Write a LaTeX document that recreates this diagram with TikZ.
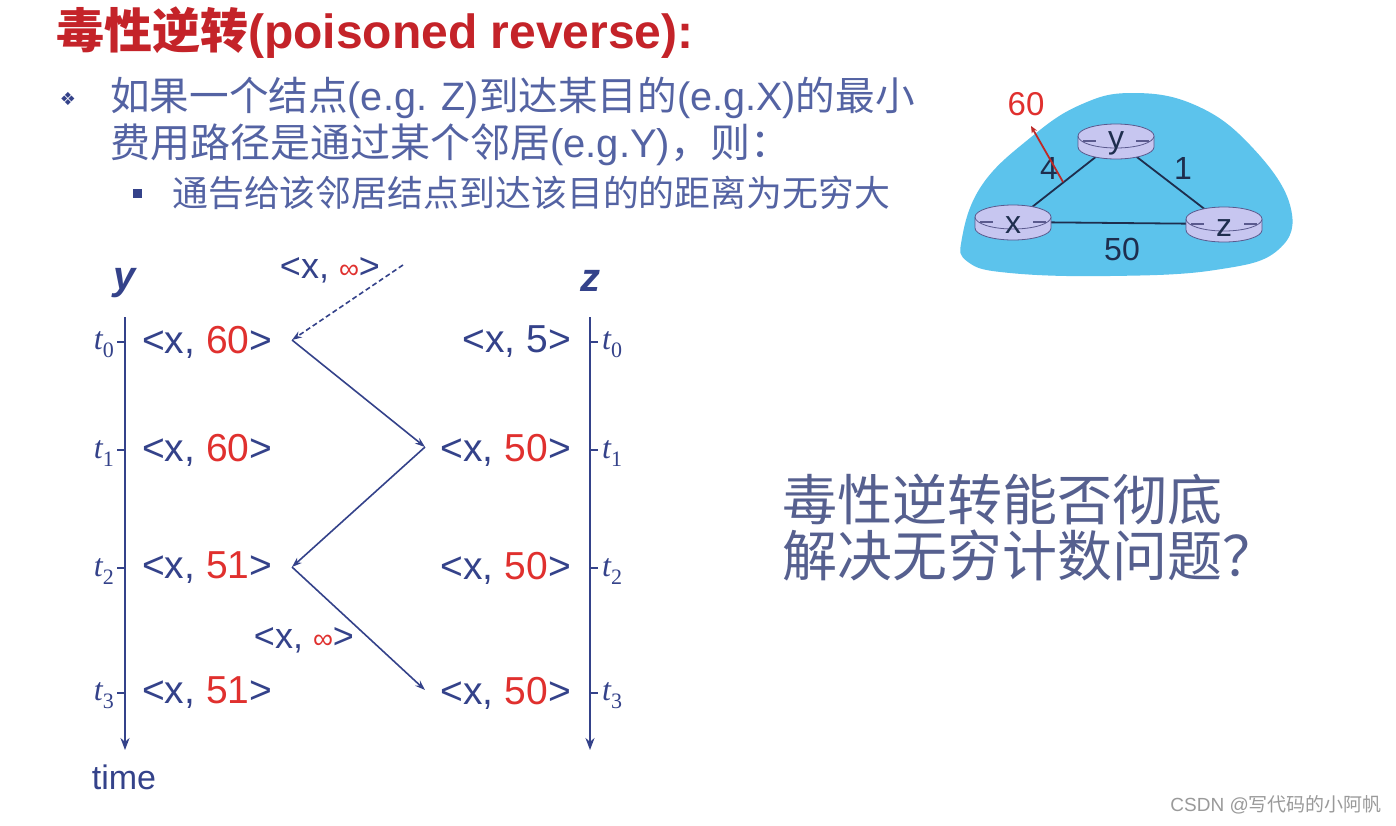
\documentclass[tikz,border=0pt]{standalone}
\usepackage{fontspec}
\setmainfont{Liberation Sans}
\newfontfamily\cjk{Noto Sans CJK SC}
\newfontfamily\tms{Liberation Serif}
\newfontfamily\djv{DejaVu Sans}
\usetikzlibrary{arrows.meta,shapes.geometric}
\definecolor{navy}{HTML}{34428A}
\definecolor{soft}{HTML}{5463A3}
\definecolor{redn}{HTML}{E0302E}
\definecolor{redt}{HTML}{C42329}
\definecolor{quest}{HTML}{56608F}
\definecolor{blob}{HTML}{5CC3EC}
\definecolor{rfill}{HTML}{C7C6F0}
\definecolor{rline}{HTML}{5A5A8E}
\definecolor{dark}{HTML}{1E2E4E}
\definecolor{wm}{HTML}{9A9A9A}
\newcommand\ent[1]{<x, \textcolor{redn}{#1}>}
\newcommand\tlab[1]{{\tms\itshape t}\raisebox{-8pt}{\fontsize{22}{22}\selectfont\tms #1}}
\tikzset{
  lbl/.style={inner sep=0pt, font=\fontsize{39}{41}\selectfont, text=navy},
  tklbl/.style={inner sep=0pt, font=\fontsize{32}{34}\selectfont, text=navy},
  inflbl/.style={inner sep=0pt, font=\fontsize{36}{38}\selectfont, text=navy},
  msg/.style={draw=navy, line width=1.6pt, -{Stealth[length=10pt,width=7pt]}},
  axis/.style={draw=navy, line width=2.2pt, -{Stealth[length=12pt,width=9pt]}},
  tick/.style={draw=navy, line width=1.5pt},
  router/.style={ellipse, minimum width=76pt, minimum height=36pt, inner sep=0pt},
  link/.style={draw=dark, line width=1.8pt},
  rlabel/.style={inner sep=0pt, font=\fontsize{32}{34}\selectfont, text=dark},
  rtr/.pic={
    \path[fill=rfill, draw=rline, line width=0.8pt] (-38,-5) -- (-38,6)
      arc[start angle=180, end angle=360, x radius=38pt, y radius=12pt] -- (38,-5);
    \draw[fill=rfill, draw=rline, line width=0.8pt] (0,-5) ellipse [x radius=38pt, y radius=12pt];
    \draw[rline, line width=1.2pt] (-33,0) -- (-20,0) (20,0) -- (33,0);
  }
}
\begin{document}
\begin{tikzpicture}[x=1pt,y=-1pt]
\useasboundingbox[fill=white] (0,0) rectangle (1396,825);

% title and bullets
\node[anchor=west, inner sep=0pt, text=redt, font=\fontsize{48}{50}\selectfont\bfseries] (title) at (56,33)
  {{\cjk\bfseries 毒性逆转}(poisoned reverse):};
\node[inner sep=0pt, text=navy, font=\fontsize{18}{18}\selectfont\djv] (b1) at (68,99) {❖};
\node[anchor=west, inner sep=0pt, text=soft, font=\fontsize{39.6}{41}\selectfont] (l1) at (110,98)
  {{\cjk 如果一个结点}(e.g. Z){\cjk 到达某目的}(e.g.X){\cjk 的最小}};
\node[anchor=west, inner sep=0pt, text=soft, font=\fontsize{40}{42}\selectfont] (l2) at (110,145)
  {{\cjk 费用路径是通过某个邻居}(e.g.Y){\cjk ，则：}};
\node[fill=navy, minimum size=9pt, inner sep=0pt] (b2) at (137,193) {};
\node[anchor=west, inner sep=0pt, text=soft, font=\fontsize{35.9}{37}\selectfont\cjk] (l3) at (172,193)
  {通告给该邻居结点到达该目的的距离为无穷大};

% network
\fill[blob] plot[smooth cycle, tension=0.7] coordinates {(962,238) (982,185) (1030,138) (1080,105) (1132,93) (1195,105) (1250,145) (1290,205) (1278,250) (1215,270) (1110,276) (1010,273) (968,262)};
\node[router] (rx) at (1013,222) {};
\node[router] (ry) at (1116,141) {};
\node[router] (rz) at (1224,224) {};
\draw[link] (rx.center) -- (ry.center);
\draw[link] (ry.center) -- (rz.center);
\draw[link] (rx.center) -- (rz.center);
\pic at (1013,222) {rtr};
\pic at (1116,141) {rtr};
\pic at (1224,224) {rtr};
\node[rlabel] (lx) at (1013,225) {x};
\node[rlabel] (ly) at (1116,143) {y};
\node[rlabel] (lz) at (1224,228) {z};
\node[rlabel] (w4) at (1049,168) {4};
\node[rlabel] (w1) at (1183,168) {1};
\node[rlabel] (w50) at (1122,249) {50};
\node[inner sep=0pt, text=redn, font=\fontsize{33}{34}\selectfont] (n60) at (1026,104) {60};
\coordinate (r60a) at (1063,182);
\coordinate (r60b) at (1031,126);
\draw[draw=redn!85!black, line width=1.8pt, -{Stealth[length=7pt,width=6pt]}] (r60a) -- (r60b);

% timelines
\node[inner sep=0pt, text=navy, font=\fontsize{40}{42}\selectfont\bfseries\itshape] (ylab) at (125,283) {y};
\node[inner sep=0pt, text=navy, font=\fontsize{40}{42}\selectfont\bfseries\itshape] (zlab) at (590,281) {z};
\coordinate (ytop) at (125,317);
\coordinate (ybot) at (125,750);
\coordinate (ztop) at (590,317);
\coordinate (zbot) at (590,750);
\draw[axis] (ytop) -- (ybot);
\draw[axis] (ztop) -- (zbot);
\node[inner sep=0pt, text=navy, font=\fontsize{34}{36}\selectfont] (time) at (124,777) {time};

\foreach \i/\yy in {0/342,1/450,2/568,3/693}{
  \coordinate (yt\i) at (117,\yy);
  \coordinate (ya\i) at (125,\yy);
  \coordinate (zt\i) at (598,\yy);
  \coordinate (za\i) at (590,\yy);
  \draw[tick] (yt\i) -- (ya\i);
  \draw[tick] (za\i) -- (zt\i);
  \node[tklbl, anchor=east] (tl\i) at (114,\yy+3) {\tlab{\i}};
  \node[tklbl, anchor=west] (tr\i) at (602,\yy+3) {\tlab{\i}};
}

\node[lbl, anchor=west] (y0) at (142,342) {\ent{60}};
\node[lbl, anchor=west] (y1) at (142,450) {\ent{60}};
\node[lbl, anchor=west] (y2) at (142,568) {\ent{51}};
\node[lbl, anchor=west] (y3) at (142,693) {\ent{51}};
\node[lbl, anchor=east] (z0) at (571,342) {<x, 5>};
\node[lbl, anchor=east] (z1) at (571,450) {\ent{50}};
\node[lbl, anchor=east] (z2) at (571,568) {\ent{50}};
\node[lbl, anchor=east] (z3) at (571,693) {\ent{50}};

\coordinate (d0) at (403,265);
\coordinate (p0) at (292,340);
\coordinate (p1) at (425,447);
\coordinate (p2) at (292,567);
\coordinate (p3) at (425,690);
\draw[msg, dashed, dash pattern=on 5pt off 3pt] (d0) -- (p0);
\draw[msg] (p0) -- (p1);
\draw[msg] (p1) -- (p2);
\draw[msg] (p2) -- (p3);
\node[inflbl] (m0) at (330,270) {<x, \textcolor{redn}{\fontsize{28}{28}\selectfont ∞}>};
\node[inflbl] (m1) at (304,640) {<x, \textcolor{redn}{\fontsize{28}{28}\selectfont ∞}>};

% question
\node[anchor=west, inner sep=0pt, text=quest, font=\fontsize{55}{57}\selectfont\cjk] (q1) at (782,500) {毒性逆转能否彻底};
\node[anchor=west, inner sep=0pt, text=quest, font=\fontsize{55}{57}\selectfont\cjk] (q2) at (782,556) {解决无穷计数问题？};

% watermark
\node[anchor=east, inner sep=0pt, text=wm, font=\fontsize{19}{20}\selectfont] (wmk) at (1382,805) {CSDN @{\cjk 写代码的小阿帆}};
\end{tikzpicture}
\end{document}
